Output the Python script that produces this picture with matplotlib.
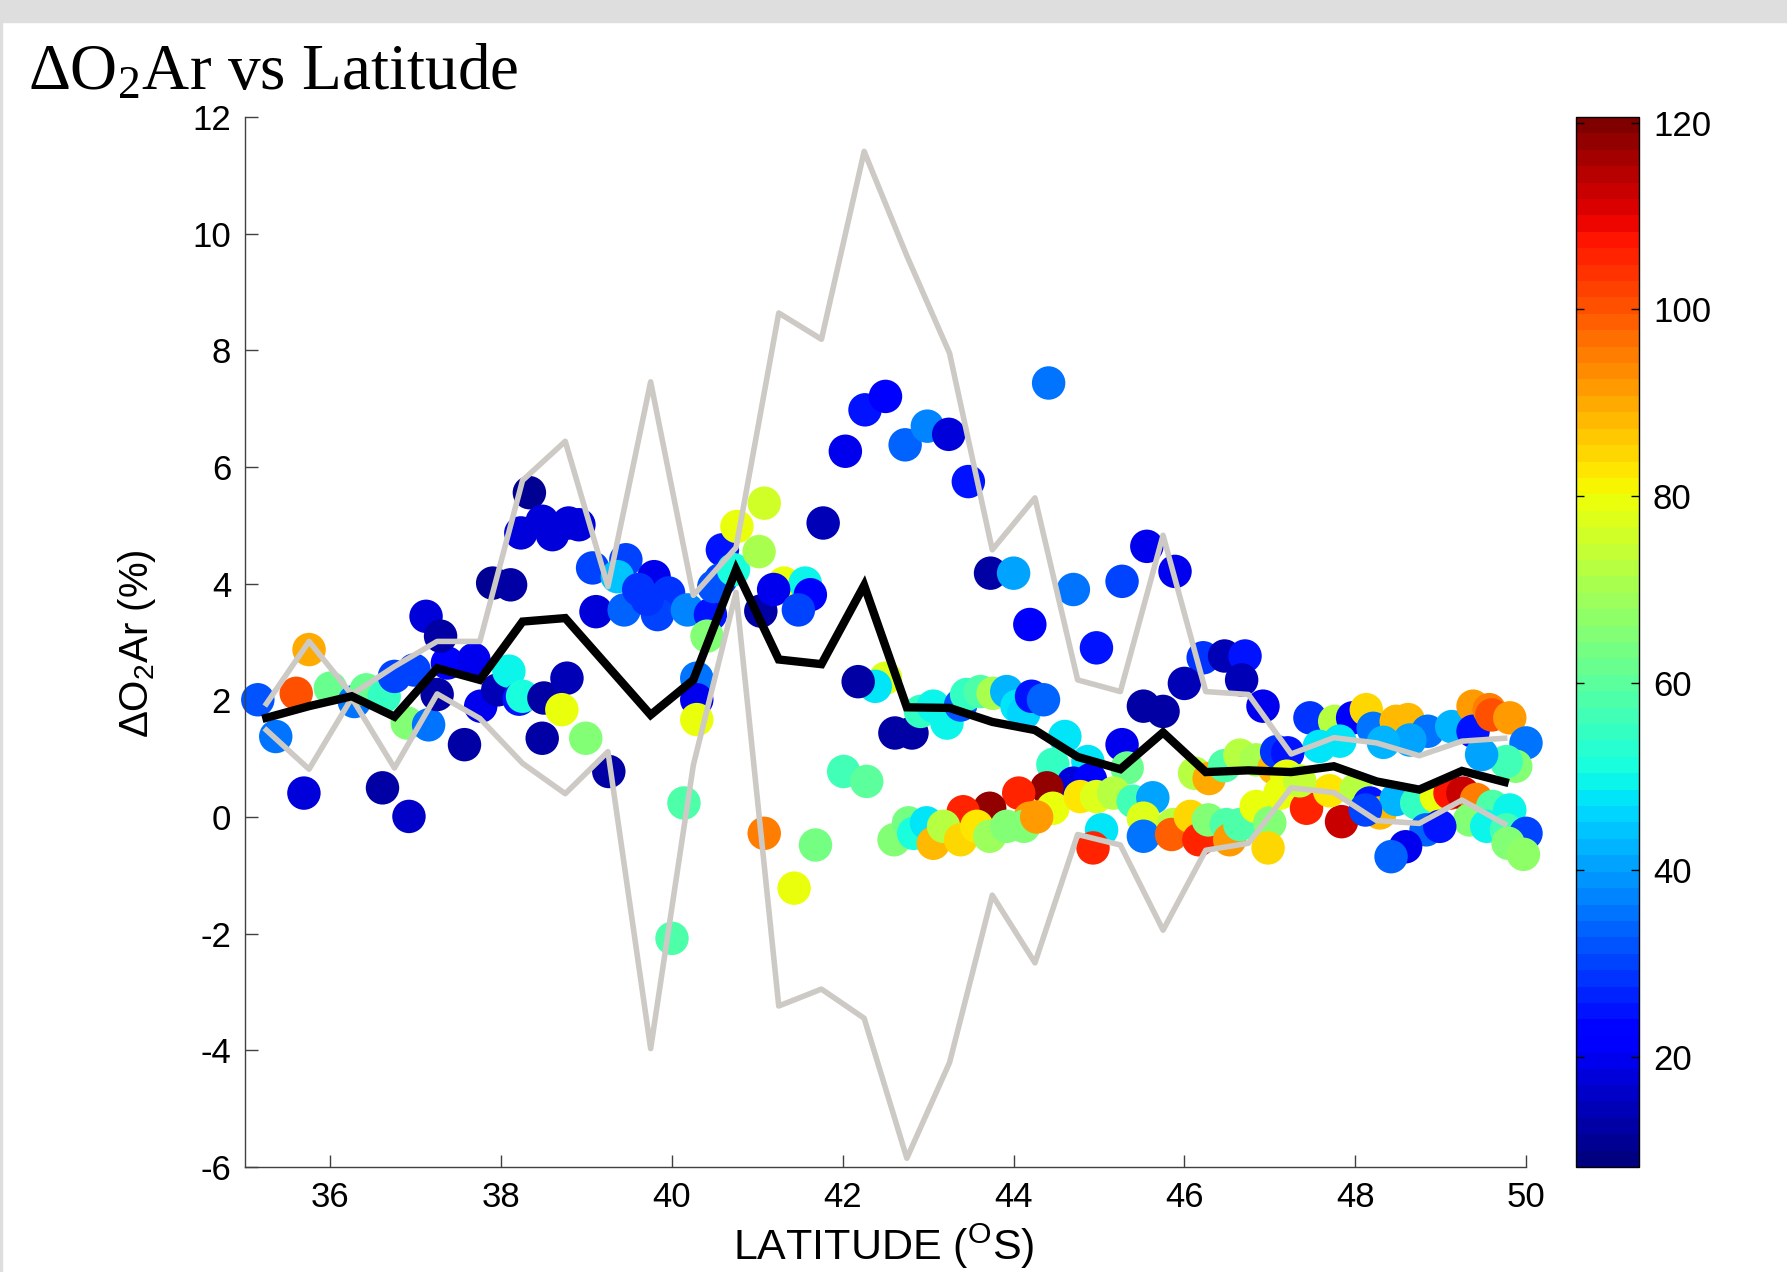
import matplotlib
matplotlib.use('Agg')
import matplotlib.pyplot as plt
from matplotlib.patches import Rectangle
import numpy as np

plt.rcParams['font.family'] = ['Liberation Sans', 'DejaVu Sans']
plt.rcParams['axes.unicode_minus'] = False

################################################
# Data
################################################

# binned mean and +/- 1 std envelope, 0.5 deg bins
bin_lat = [35.25, 35.75, 36.25, 36.75, 37.25, 37.75, 38.25, 38.75, 39.25, 39.75,
           40.25, 40.75, 41.25, 41.75, 42.25, 42.75, 43.25, 43.75, 44.25, 44.75,
           45.25, 45.75, 46.25, 46.75, 47.25, 47.75, 48.25, 48.75, 49.25, 49.75]
bin_mean = [1.70, 1.90, 2.07, 1.72, 2.55, 2.35, 3.35, 3.41, 2.58, 1.75,
            2.35, 4.24, 2.70, 2.62, 3.97, 1.88, 1.87, 1.63, 1.49, 1.03,
            0.82, 1.45, 0.77, 0.80, 0.77, 0.87, 0.61, 0.47, 0.79, 0.60]
bin_upper = [1.94, 3.01, 2.10, 2.58, 3.01, 3.01, 5.77, 6.44, 3.95, 7.46,
             3.80, 4.62, 8.64, 8.19, 11.41, 9.62, 7.95, 4.58, 5.47, 2.35,
             2.15, 4.83, 2.15, 2.10, 1.08, 1.36, 1.27, 1.05, 1.30, 1.35]
bin_lower = [1.49, 0.82, 2.04, 0.84, 2.11, 1.69, 0.92, 0.40, 1.12, -3.97,
             0.89, 3.85, -3.24, -2.95, -3.45, -5.85, -4.21, -1.34, -2.50, -0.30,
             -0.48, -1.94, -0.57, -0.45, 0.50, 0.42, -0.06, -0.11, 0.29, -0.12]

# individual samples: latitude, dO2/Ar (%), colour value
pt_lat = [35.15, 35.36, 35.60, 35.75, 35.69, 36.00, 36.28, 36.42, 36.63, 36.61,
          36.92, 36.75, 36.98, 36.90, 37.15, 37.25, 37.57, 37.37, 37.68, 37.76,
          37.96, 38.09, 38.21, 38.25, 38.50, 38.77, 38.71, 38.48, 38.99, 39.26,
          40.14, 40.00, 40.29, 40.29, 40.29, 37.12, 37.29, 37.90, 38.11, 38.33,
          38.23, 38.48, 38.60, 38.79, 38.91, 39.07, 39.46, 39.11, 39.44, 39.36,
          39.79, 39.61, 39.96, 39.83, 39.71, 40.18, 40.45, 40.59, 40.57, 40.49,
          40.72, 40.76, 41.08, 41.02, 40.41, 41.04, 41.31, 41.56, 41.19, 41.62,
          41.48, 41.77, 41.08, 41.68, 41.43,
          42.03, 42.26, 42.50, 42.73, 42.99, 43.24, 43.47, 44.41, 43.73, 44.00,
          44.19, 44.70, 45.27, 45.56, 45.89, 44.97, 46.22, 46.47, 46.71, 42.50,
          42.38, 42.18, 42.61, 42.81, 42.01, 42.28, 42.91, 43.06, 43.22, 43.38,
          43.45, 43.61, 43.76, 43.92, 44.04, 44.12, 44.21, 44.35, 44.60, 45.52,
          45.75, 46.00, 46.67, 46.92, 45.27, 44.87, 44.46, 45.33, 44.70, 44.90,
          44.39, 44.06, 43.72, 43.41, 44.19, 44.46, 44.78, 44.97, 45.17, 45.40,
          45.63, 45.52, 45.52, 45.03, 44.93, 45.87, 45.85, 46.07, 46.17, 46.28,
          46.49, 46.53, 46.65, 46.84, 47.00, 46.98, 46.12, 46.29, 46.47, 46.65,
          46.84, 47.05, 47.08, 42.60, 42.77, 42.83, 42.98, 43.06, 43.18, 43.38,
          43.57, 43.72, 43.92, 44.12, 44.27,
          47.47, 47.76, 47.97, 48.13, 48.21, 48.48, 48.62, 48.85, 49.13, 49.38,
          49.38, 49.57, 49.60, 49.81, 50.00, 49.88, 49.77, 49.48, 48.64, 47.58,
          47.21, 47.12, 47.43, 47.84, 47.70, 48.01, 48.17, 48.29, 48.48, 48.72,
          48.95, 49.11, 49.26, 49.42, 49.61, 49.81, 49.34, 49.54, 49.77, 50.00,
          49.79, 49.97, 48.83, 48.99, 48.59, 48.42, 48.12, 47.20, 47.35, 48.33,
          47.82]
pt_val = [2.01, 1.38, 2.12, 2.87, 0.41, 2.21, 1.98, 2.18, 2.07, 0.50,
          0.01, 2.41, 2.52, 1.61, 1.58, 2.10, 1.24, 2.64, 2.70, 1.90,
          2.18, 2.50, 2.02, 2.07, 2.04, 2.38, 1.84, 1.35, 1.35, 0.78,
          0.24, -2.08, 2.38, 2.01, 1.67, 3.44, 3.10, 4.01, 3.98, 5.56,
          4.87, 5.07, 4.84, 5.04, 5.01, 4.27, 4.41, 3.52, 3.55, 4.12,
          4.12, 3.90, 3.84, 3.47, 3.73, 3.55, 3.47, 4.58, 4.07, 3.95,
          4.24, 4.98, 5.38, 4.55, 3.10, 3.53, 4.01, 4.01, 3.90, 3.81,
          3.55, 5.04, -0.28, -0.48, -1.22,
          6.27, 6.98, 7.21, 6.38, 6.70, 6.56, 5.75, 7.44, 4.18, 4.18,
          3.30, 3.90, 4.04, 4.64, 4.21, 2.90, 2.73, 2.76, 2.76, 2.38,
          2.24, 2.32, 1.44, 1.44, 0.78, 0.61, 1.81, 1.90, 1.61, 1.92,
          2.10, 2.15, 2.12, 2.15, 1.90, 1.78, 2.07, 2.01, 1.38, 1.90,
          1.81, 2.29, 2.35, 1.90, 1.24, 0.95, 0.90, 0.84, 0.58, 0.64,
          0.50, 0.41, 0.15, 0.09, -0.02, 0.15, 0.35, 0.35, 0.41, 0.27,
          0.33, -0.02, -0.33, -0.22, -0.53, -0.13, -0.30, 0.01, -0.39, -0.05,
          -0.13, -0.39, -0.13, 0.18, -0.10, -0.53, 0.75, 0.66, 0.88, 1.06,
          0.98, 0.84, 1.12, -0.39, -0.10, -0.28, -0.10, -0.45, -0.16, -0.39,
          -0.16, -0.33, -0.16, -0.16, 0.00,
          1.70, 1.64, 1.70, 1.84, 1.52, 1.64, 1.67, 1.47, 1.55, 1.90,
          1.47, 1.84, 1.75, 1.70, 1.27, 0.87, 0.95, 1.07, 1.32, 1.21,
          1.10, 0.41, 0.15, -0.08, 0.45, 0.47, 0.24, 0.07, 0.30, 0.24,
          0.35, 0.41, 0.41, 0.30, 0.18, 0.12, -0.05, -0.16, -0.22, -0.28,
          -0.45, -0.64, -0.22, -0.16, -0.51, -0.68, 0.12, 0.70, 0.62, 1.28,
          1.30]
pt_col = [32, 35, 100, 90, 18, 62, 35, 62, 55, 12,
          16, 30, 30, 65, 35, 12, 12, 22, 20, 20,
          14, 50, 25, 52, 12, 15, 80, 12, 65, 12,
          58, 58, 35, 20, 80, 18, 12, 10, 12, 10,
          18, 18, 18, 17, 18, 30, 30, 18, 33, 45,
          20, 28, 28, 30, 28, 38, 25, 25, 30, 32,
          52, 80, 75, 70, 65, 12, 80, 50, 20, 22,
          30, 15, 95, 63, 80,
          20, 25, 22, 33, 38, 18, 25, 35, 12, 40,
          22, 35, 30, 20, 20, 25, 28, 15, 25, 78,
          48, 12, 12, 12, 57, 60, 55, 50, 50, 32,
          55, 58, 70, 42, 48, 46, 25, 33, 48, 12,
          12, 15, 15, 20, 20, 48, 55, 62, 18, 22,
          118, 105, 118, 105, 92, 80, 82, 78, 72, 57,
          40, 78, 35, 48, 105, 72, 98, 84, 105, 66,
          58, 92, 58, 80, 65, 85, 72, 90, 58, 72,
          70, 88, 28, 65, 63, 52, 48, 88, 72, 85,
          83, 68, 66, 65, 92,
          28, 72, 22, 85, 35, 88, 88, 35, 42, 92,
          25, 95, 100, 92, 35, 66, 57, 40, 40, 48,
          25, 80, 105, 112, 83, 72, 25, 88, 42, 55,
          80, 108, 112, 95, 58, 50, 65, 50, 57, 30,
          65, 67, 33, 25, 20, 33, 30, 80, 74, 42,
          47]

cmin, cmax = 8.2, 120.6

################################################
# Plot
################################################

W, H = 1787, 1272
fig = plt.figure(figsize=(W / 100, H / 100), dpi=100)
fig.patches.append(Rectangle((0, 1 - 22 / H), 1, 22 / H, transform=fig.transFigure,
                             color='#dedede', zorder=0))
fig.patches.append(Rectangle((0, 0), 2 / W, 1, transform=fig.transFigure,
                             color='#dedede', zorder=0))

ax = fig.add_axes([245 / W, 1 - 1167 / H, 1281 / W, 1050 / H])
cmap = plt.get_cmap('jet', 64)

sc = ax.scatter(pt_lat, pt_val, c=pt_col, cmap=cmap, vmin=cmin, vmax=cmax,
                s=580, edgecolors='none', zorder=2, clip_on=False)
ax.plot(bin_lat, bin_upper, color='#cdc9c4', lw=4.0, zorder=3)
ax.plot(bin_lat, bin_lower, color='#cdc9c4', lw=4.0, zorder=3)
ax.plot(bin_lat, bin_mean, color='black', lw=6.0, zorder=4,
        solid_joinstyle='miter')

ax.set_xlim(35, 50)
ax.set_ylim(-6, 12)
ax.set_xticks([36, 38, 40, 42, 44, 46, 48, 50])
ax.set_yticks([-6, -4, -2, 0, 2, 4, 6, 8, 10, 12])
ax.spines['top'].set_visible(False)
ax.spines['right'].set_visible(False)
for s in ('left', 'bottom'):
    ax.spines[s].set_color('#404040')
    ax.spines[s].set_linewidth(1.0)
ax.tick_params(direction='in', length=9, width=1, color='#404040',
               labelsize=25, pad=10)

fig.text(137 / W, 1 - 644 / H, 'ΔO$\\mathregular{_2}$Ar (%)', rotation=90,
         ha='center', va='center', fontsize=29)
fig.text(884 / W, 1 - 1246 / H, 'LATITUDE ($\\mathregular{^O}$S)',
         ha='center', va='center', fontsize=31)
fig.text(28 / W, 1 - 89 / H, 'ΔO$\\mathregular{_2}$Ar vs Latitude',
         ha='left', va='baseline', fontsize=47, family='Liberation Serif')

cax = fig.add_axes([1576 / W, 1 - 1167 / H, 63 / W, 1050 / H])
cb = fig.colorbar(sc, cax=cax)
cb.set_ticks([20, 40, 60, 80, 100, 120])
cb.outline.set_linewidth(1.0)
cb.ax.tick_params(direction='in', length=6, width=1, left=True, right=True,
                  labelsize=25, pad=10)

fig.savefig('out.png', dpi=100)
